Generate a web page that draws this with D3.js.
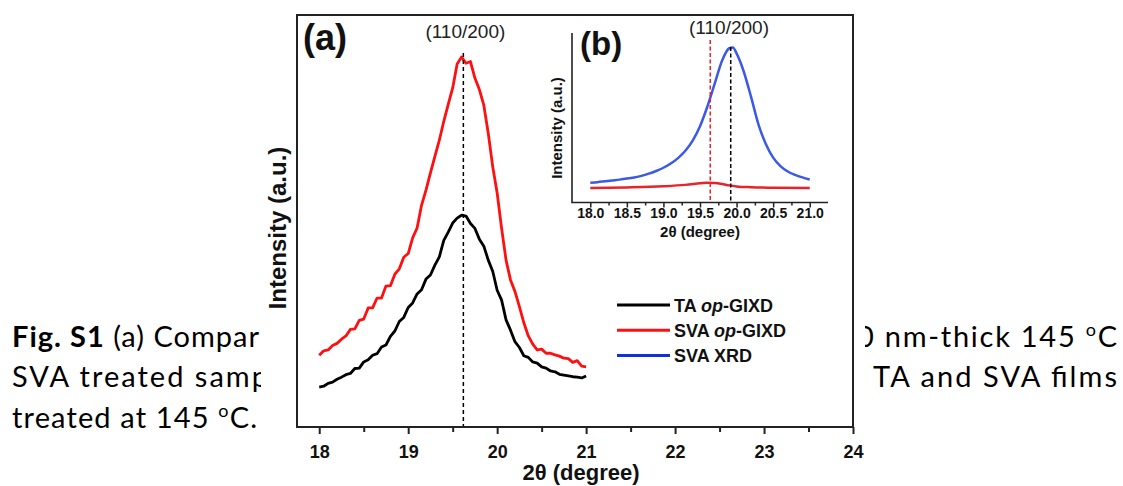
<!DOCTYPE html>
<html>
<head>
<meta charset="utf-8">
<script src="https://cdn.jsdelivr.net/npm/d3@7"></script>
<style>
  body { margin: 0; background: #fff; }
  svg { display: block; }
</style>
</head>
<body>
<div id="chart"></div>
<script>
// ---- data ----
const twoTheta = [18.00, 18.05, 18.10, 18.15, 18.20, 18.25, 18.30, 18.35, 18.40, 18.45,
  18.50, 18.55, 18.60, 18.65, 18.70, 18.75, 18.80, 18.85, 18.90, 18.95,
  19.00, 19.05, 19.10, 19.15, 19.20, 19.25, 19.30, 19.35, 19.40, 19.45,
  19.50, 19.55, 19.60, 19.65, 19.70, 19.75, 19.80, 19.85, 19.90, 19.95,
  20.00, 20.05, 20.10, 20.15, 20.20, 20.25, 20.30, 20.35, 20.40, 20.45,
  20.50, 20.55, 20.60, 20.65, 20.70, 20.75, 20.80, 20.85, 20.90, 20.95, 21.00];

const taGixd = [9.7, 9.9, 10.6, 10.9, 11.6, 12.1, 12.7, 13.0, 14.2, 14.3,
  15.8, 16.3, 17.4, 17.8, 19.4, 19.9, 22.0, 23.3, 25.6, 26.6,
  29.0, 30.1, 32.3, 33.3, 35.9, 36.9, 39.3, 41.3, 45.3, 47.3,
  49.5, 50.7, 51.4, 51.2, 49.4, 48.2, 45.6, 43.9, 40.5, 37.8,
  33.2, 30.8, 26.0, 23.5, 20.7, 19.3, 17.3, 16.9, 15.8, 15.5,
  14.6, 14.3, 13.6, 13.4, 12.8, 12.6, 12.4, 12.2, 12.1, 11.9, 12.4];

const svaGixd = [17.4, 18.5, 18.7, 19.8, 20.3, 21.3, 22.1, 23.7, 23.8, 25.9,
  26.2, 28.9, 28.9, 31.3, 31.3, 34.2, 34.3, 37.1, 38.4, 41.2,
  42.1, 45.9, 48.3, 53.8, 57.5, 61.7, 65.7, 69.6, 74.2, 78.3,
  82.3, 88.1, 89.8, 88.3, 88.7, 84.7, 81.9, 78.1, 71.3, 63.2,
  56.8, 48.2, 40.5, 35.7, 32.9, 29.2, 25.3, 22.1, 20.1, 18.7,
  18.9, 17.9, 17.9, 17.5, 17.2, 16.7, 16.6, 15.7, 16.1, 14.8, 14.6];

// inset (b)
const insetTheta = [18.0, 18.1, 18.2, 18.3, 18.4, 18.5, 18.6, 18.7, 18.8, 18.9,
  19.0, 19.1, 19.2, 19.3, 19.4, 19.5, 19.6, 19.7, 19.8, 19.9, 19.95,
  20.0, 20.1, 20.2, 20.3, 20.4, 20.5, 20.6, 20.7, 20.8, 20.9, 21.0];
const svaXrd = [11.7, 12.0, 12.5, 13.0, 13.5, 14.1, 14.8, 15.7, 17.0, 18.6,
  20.5, 23.0, 26.2, 30.5, 36.5, 45.0, 56.5, 70.0, 83.5, 91.0, 91.5,
  88.0, 77.0, 62.0, 46.0, 34.5, 26.5, 21.5, 18.3, 16.3, 14.8, 13.6];
const insetRedTheta = [18.0, 18.5, 19.0, 19.3, 19.5, 19.6, 19.7, 19.8, 19.9, 20.0, 20.2, 20.5, 21.0];
const insetRed = [8.5, 8.9, 9.6, 10.4, 11.3, 11.7, 11.5, 10.9, 10.1, 9.5, 9.0, 8.7, 8.5];

const mainTicks = [18, 19, 20, 21, 22, 23, 24];
const mainMinor = [18.5, 19.5, 20.5, 21.5, 22.5, 23.5];
const insetTicks = [18.0, 18.5, 19.0, 19.5, 20.0, 20.5, 21.0];
const insetMinor = [18.25, 18.75, 19.25, 19.75, 20.25, 20.75];
const peakMain = 19.62;
const peakSvaGixd = 19.64;
const peakSvaXrd = 19.92;

const legendItems = [
  {pre: "TA ", it: "op", post: "-GIXD", color: "#000000"},
  {pre: "SVA ", it: "op", post: "-GIXD", color: "#ff1010"},
  {pre: "SVA XRD", it: "", post: "", color: "#1030e0"}
];

const W = 1123, H = 486;
const RED = "#ff1010", BLUE = "#3a5ae6", INRED = "#e8242a";
const CHART_FONT = "'Liberation Sans', Arial, sans-serif";
const CAPTION_FONT = "Lato, 'Open Sans', sans-serif";

const svg = d3.select("#chart").append("svg")
    .attr("width", W).attr("height", H);
svg.append("rect").attr("width", W).attr("height", H).attr("fill", "#fff");

// ---- caption text behind the figure ----
const cap = svg.append("g")
    .attr("font-family", CAPTION_FONT)
    .attr("font-size", 29)
    .attr("fill", "#000");

function capLine(x, y, len, parts) {
    const t = cap.append("text").attr("x", x).attr("y", y)
        .attr("textLength", len).attr("lengthAdjust", "spacing");
    parts.forEach(p => {
        const s = t.append("tspan").text(p.t);
        if (p.b) s.attr("font-weight", "bold");
        if (p.sup) s.attr("font-size", 18).attr("dy", -11);
        if (p.down) s.attr("dy", 11);
    });
}
capLine(12, 347, 247, [{t: "Fig. S1", b: true}, {t: " (a) Compar"}]);
capLine(12, 387, 256, [{t: "SVA  treated  samp"}]);
capLine(12, 428, 245, [{t: "treated at 145 "}, {t: "o", sup: true}, {t: "C.", down: true}]);
capLine(857, 347, 260, [{t: "0 nm-thick 145 "}, {t: "o", sup: true}, {t: "C", down: true}]);
capLine(873, 387, 244, [{t: "TA  and  SVA  films"}]);

// ---- figure panel (white backing hides the caption) ----
const fig = svg.append("g").attr("font-family", CHART_FONT);
fig.append("rect").attr("x", 261).attr("y", 0).attr("width", 604).attr("height", H).attr("fill", "#fff");

const x = d3.scaleLinear().domain([17.75, 24]).range([297, 853]);
const y = d3.scaleLinear().domain([0, 100]).range([427, 15]);

// curves
const lineMain = (vals) => d3.line()
    .x((d, i) => x(twoTheta[i]))
    .y(d => y(d))(vals);

fig.append("path").attr("d", lineMain(svaGixd))
    .attr("fill", "none").attr("stroke", RED).attr("stroke-width", 2.8).attr("stroke-linejoin", "round");
fig.append("path").attr("d", lineMain(taGixd))
    .attr("fill", "none").attr("stroke", "#000").attr("stroke-width", 2.8).attr("stroke-linejoin", "round");

// dashed peak marker
fig.append("line")
    .attr("x1", x(peakMain)).attr("x2", x(peakMain))
    .attr("y1", 53).attr("y2", y(0))
    .attr("stroke", "#000").attr("stroke-width", 1.5).attr("stroke-dasharray", "4,3");

// frame
fig.append("rect").attr("x", 297).attr("y", 15).attr("width", 556).attr("height", 412)
    .attr("fill", "none").attr("stroke", "#222").attr("stroke-width", 2);

// x axis
const axMain = fig.append("g").attr("transform", `translate(0,${y(0)})`)
    .call(d3.axisBottom(x).tickValues(mainTicks).tickSize(7).tickSizeOuter(0).tickPadding(11)
        .tickFormat(d3.format("d")));
axMain.select(".domain").remove();
axMain.selectAll("line").attr("stroke", "#222").attr("stroke-width", 2);
axMain.selectAll("text").attr("font-size", 18).attr("font-weight", "bold")
    .attr("font-family", CHART_FONT).attr("fill", "#111");
const axMainMinor = fig.append("g").attr("transform", `translate(0,${y(0)})`)
    .call(d3.axisBottom(x).tickValues(mainMinor).tickSize(5).tickSizeOuter(0).tickFormat(""));
axMainMinor.select(".domain").remove();
axMainMinor.selectAll("line").attr("stroke", "#222").attr("stroke-width", 2);

fig.append("text").attr("x", 581).attr("y", 480)
    .attr("text-anchor", "middle").attr("font-size", 22).attr("font-weight", "bold").attr("fill", "#111")
    .text("2θ (degree)");
fig.append("text").attr("transform", "translate(286,228) rotate(-90)")
    .attr("text-anchor", "middle").attr("font-size", 24).attr("font-weight", "bold").attr("fill", "#111")
    .text("Intensity (a.u.)");

fig.append("text").attr("x", 303).attr("y", 50)
    .attr("font-size", 36).attr("font-weight", "bold").attr("fill", "#111").text("(a)");
fig.append("text").attr("x", x(peakMain) + 2).attr("y", 38)
    .attr("text-anchor", "middle").attr("font-size", 19).attr("fill", "#222").text("(110/200)");

// legend
const leg = fig.append("g");
legendItems.forEach((d, i) => {
    const yy = 312 + i * 25.2;
    leg.append("line").attr("x1", 617).attr("x2", 670).attr("y1", yy - 7).attr("y2", yy - 7)
        .attr("stroke", d.color).attr("stroke-width", 3);
    const t = leg.append("text").attr("x", 674).attr("y", yy)
        .attr("font-size", 18).attr("font-weight", "bold").attr("fill", "#111");
    t.append("tspan").text(d.pre);
    if (d.it) t.append("tspan").attr("font-style", "italic").text(d.it);
    if (d.post) t.append("tspan").text(d.post);
});

// ---- inset (b) ----
const xi = d3.scaleLinear().domain([17.75, 21.25]).range([572, 828]);
const yi = d3.scaleLinear().domain([0, 100]).range([202.5, 33]);

fig.append("path")
    .attr("d", d3.line().curve(d3.curveMonotoneX).x((d, i) => xi(insetTheta[i])).y(d => yi(d))(svaXrd))
    .attr("fill", "none").attr("stroke", BLUE).attr("stroke-width", 2.5);
fig.append("path")
    .attr("d", d3.line().curve(d3.curveMonotoneX).x((d, i) => xi(insetRedTheta[i])).y(d => yi(d))(insetRed))
    .attr("fill", "none").attr("stroke", INRED).attr("stroke-width", 2.5);

fig.append("line").attr("x1", xi(peakSvaGixd)).attr("x2", xi(peakSvaGixd))
    .attr("y1", 40).attr("y2", yi(0))
    .attr("stroke", INRED).attr("stroke-width", 1.5).attr("stroke-dasharray", "4,2.5");
fig.append("line").attr("x1", xi(peakSvaXrd)).attr("x2", xi(peakSvaXrd))
    .attr("y1", 47).attr("y2", yi(0))
    .attr("stroke", "#000").attr("stroke-width", 1.5).attr("stroke-dasharray", "4,2.5");

// inset axes (left + bottom only)
fig.append("path")
    .attr("d", `M${xi(17.75)},33V${yi(0)}H${xi(21.25)}`)
    .attr("fill", "none").attr("stroke", "#222").attr("stroke-width", 1.6);
const axIn = fig.append("g").attr("transform", `translate(0,${yi(0)})`)
    .call(d3.axisBottom(xi).tickValues(insetTicks).tickSize(5).tickSizeOuter(0).tickPadding(1)
        .tickFormat(d3.format(".1f")));
axIn.select(".domain").remove();
axIn.selectAll("line").attr("stroke", "#222").attr("stroke-width", 1.5);
axIn.selectAll("text").attr("font-size", 14).attr("font-weight", "bold")
    .attr("font-family", CHART_FONT).attr("fill", "#111");
const axInMinor = fig.append("g").attr("transform", `translate(0,${yi(0)})`)
    .call(d3.axisBottom(xi).tickValues(insetMinor).tickSize(3).tickSizeOuter(0).tickFormat(""));
axInMinor.select(".domain").remove();
axInMinor.selectAll("line").attr("stroke", "#222").attr("stroke-width", 1.5);

fig.append("text").attr("x", 700).attr("y", 237)
    .attr("text-anchor", "middle").attr("font-size", 15).attr("font-weight", "bold").attr("fill", "#111")
    .text("2θ (degree)");
fig.append("text").attr("transform", "translate(562,128) rotate(-90)")
    .attr("text-anchor", "middle").attr("font-size", 15).attr("font-weight", "bold").attr("fill", "#111")
    .text("Intensity (a.u.)");
fig.append("text").attr("x", 580).attr("y", 55)
    .attr("font-size", 33).attr("font-weight", "bold").attr("fill", "#111").text("(b)");
fig.append("text").attr("x", 729).attr("y", 34)
    .attr("text-anchor", "middle").attr("font-size", 19).attr("fill", "#222").text("(110/200)");
</script>
</body>
</html>
